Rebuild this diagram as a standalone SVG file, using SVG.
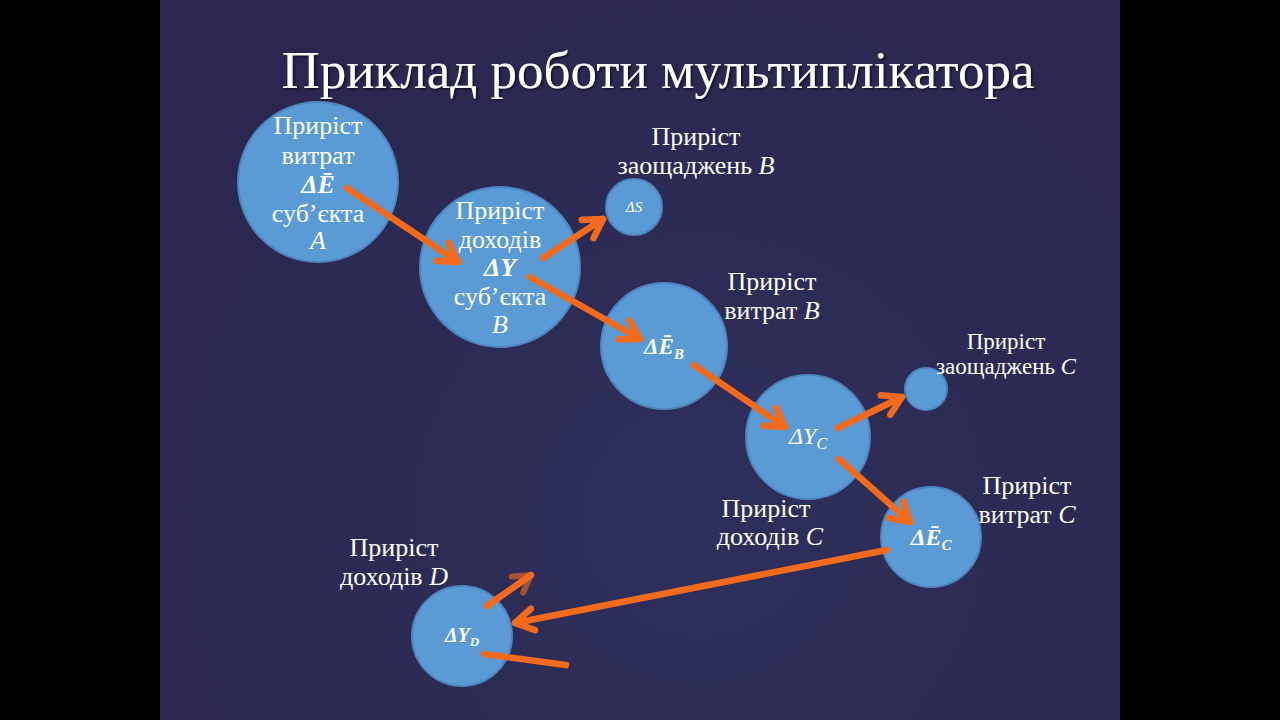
<svg xmlns="http://www.w3.org/2000/svg" width="1280" height="720" viewBox="0 0 1280 720">
<defs>
<radialGradient id="bg" cx="700" cy="520" r="620" gradientUnits="userSpaceOnUse">
<stop offset="0" stop-color="#2d2f5b"/>
<stop offset="0.6" stop-color="#2c2a54"/>
<stop offset="1" stop-color="#2a2650"/>
</radialGradient>
<linearGradient id="fade1" x1="487" y1="606" x2="532" y2="574" gradientUnits="userSpaceOnUse">
<stop offset="0.6" stop-color="#f26b1d"/>
<stop offset="1" stop-color="#f26b1d" stop-opacity="0.35"/>
</linearGradient>
<linearGradient id="fade2" x1="484" y1="654" x2="566" y2="665" gradientUnits="userSpaceOnUse">
<stop offset="0.55" stop-color="#f26b1d"/>
<stop offset="1" stop-color="#f26b1d" stop-opacity="0.2"/>
</linearGradient>
<marker id="arr" viewBox="0 0 10 10" refX="7.6" refY="5" markerWidth="4.4" markerHeight="4.4" orient="auto" markerUnits="strokeWidth">
<path d="M1.2,1.2 L7.6,5 L1.2,8.8" fill="none" stroke="#f26b1d" stroke-width="2.3" stroke-linecap="round" stroke-linejoin="round"/>
</marker>
<marker id="arrf" viewBox="0 0 10 10" refX="7.6" refY="5" markerWidth="4" markerHeight="4" orient="auto" markerUnits="strokeWidth">
<path d="M1.2,1.2 L7.6,5 L1.2,8.8" fill="none" stroke="#f26b1d" stroke-opacity="0.6" stroke-width="2.3" stroke-linecap="round" stroke-linejoin="round"/>
</marker>
<filter id="sh" x="-5%" y="-20%" width="110%" height="140%">
<feDropShadow dx="1.5" dy="1.5" stdDeviation="1" flood-color="#000" flood-opacity="0.6"/>
</filter>
</defs>
<style>
.bub{fill:#5b9bd5;stroke:#4d84bd;stroke-width:2}
.t{font-family:"Liberation Serif","DejaVu Serif",serif;fill:#ffffff;text-anchor:middle}
.n{font-size:26px}
.l{font-size:26px}
.m{font-style:italic}
.b{font-weight:bold;font-style:italic}
.c{fill:none;stroke:#f26b1d;stroke-width:6.5;stroke-linecap:round}
</style>
<rect x="0" y="0" width="1280" height="720" fill="#000"/>
<rect x="160" y="0" width="960" height="720" fill="url(#bg)"/>

<text class="t" x="658" y="88" font-size="53" filter="url(#sh)">Приклад роботи мультиплікатора</text>

<g id="nodeA">
<circle class="bub" cx="318" cy="182" r="80"/>
<text class="t n" x="318" y="134">Приріст</text>
<text class="t n" x="318" y="164">витрат</text>
<text class="t n b" x="318" y="193">ΔĒ</text>
<text class="t n" x="318" y="222">суб’єкта</text>
<text class="t n m" x="318" y="249">A</text>
</g>

<g id="nodeB">
<circle class="bub" cx="500" cy="267" r="80"/>
<text class="t n" x="500" y="219">Приріст</text>
<text class="t n" x="500" y="248">доходів</text>
<text class="t n b" x="500" y="276">ΔY</text>
<text class="t n" x="500" y="305">суб’єкта</text>
<text class="t n m" x="500" y="333">B</text>
</g>

<g id="nodeSB">
<circle class="bub" cx="634" cy="207" r="28"/>
<text class="t m" x="634" y="212" font-size="15">ΔS</text>
<text class="t l" x="696" y="145">Приріст</text>
<text class="t l" x="696" y="174">заощаджень <tspan class="m">B</tspan></text>
</g>

<g id="nodeEB">
<circle class="bub" cx="664" cy="346" r="63"/>
<text class="t b" x="664" y="354" font-size="23">ΔĒ<tspan font-size="15" dy="5">B</tspan></text>
<text class="t l" x="772" y="290">Приріст</text>
<text class="t l" x="772" y="319">витрат <tspan class="m">B</tspan></text>
</g>

<g id="nodeYC">
<circle class="bub" cx="808" cy="437" r="62"/>
<text class="t m" x="808" y="444" font-size="24">ΔY<tspan font-size="16" dy="5">C</tspan></text>
<text class="t l" x="766" y="517">Приріст</text>
<text class="t l" x="770" y="545">доходів <tspan class="m">C</tspan></text>
</g>

<g id="nodeSC">
<circle class="bub" cx="926" cy="389" r="21"/>
<text class="t" x="1006" y="349" font-size="23">Приріст</text>
<text class="t" x="1006" y="374" font-size="23">заощаджень <tspan class="m">C</tspan></text>
</g>

<g id="nodeEC">
<circle class="bub" cx="931" cy="537" r="50"/>
<text class="t b" x="931" y="545" font-size="24">ΔĒ<tspan font-size="15" dy="5">C</tspan></text>
<text class="t l" x="1027" y="494">Приріст</text>
<text class="t l" x="1027" y="523">витрат <tspan class="m">C</tspan></text>
</g>

<g id="nodeYD">
<circle class="bub" cx="462" cy="636" r="50"/>
<text class="t b" x="462" y="642" font-size="20">ΔY<tspan font-size="13" dy="4">D</tspan></text>
<text class="t l" x="394" y="556">Приріст</text>
<text class="t l" x="394" y="585">доходів <tspan class="m">D</tspan></text>
</g>

<g id="connectors">
<line class="c" x1="347" y1="188" x2="458" y2="262" marker-end="url(#arr)"/>
<line class="c" x1="543" y1="258" x2="603" y2="219" marker-end="url(#arr)"/>
<line class="c" x1="530" y1="277" x2="640" y2="339" marker-end="url(#arr)"/>
<line class="c" x1="694" y1="365" x2="785" y2="427" marker-end="url(#arr)"/>
<line class="c" x1="838" y1="428" x2="902" y2="397" marker-end="url(#arr)"/>
<line class="c" x1="839" y1="459" x2="910" y2="522" marker-end="url(#arr)"/>
<line class="c" x1="887" y1="550" x2="515" y2="623" marker-end="url(#arr)"/>
<line class="c" x1="487" y1="606" x2="531" y2="575" stroke="url(#fade1)" marker-end="url(#arrf)"/>
<line class="c" x1="484" y1="654" x2="566" y2="665" stroke="url(#fade2)"/>
</g>
</svg>
